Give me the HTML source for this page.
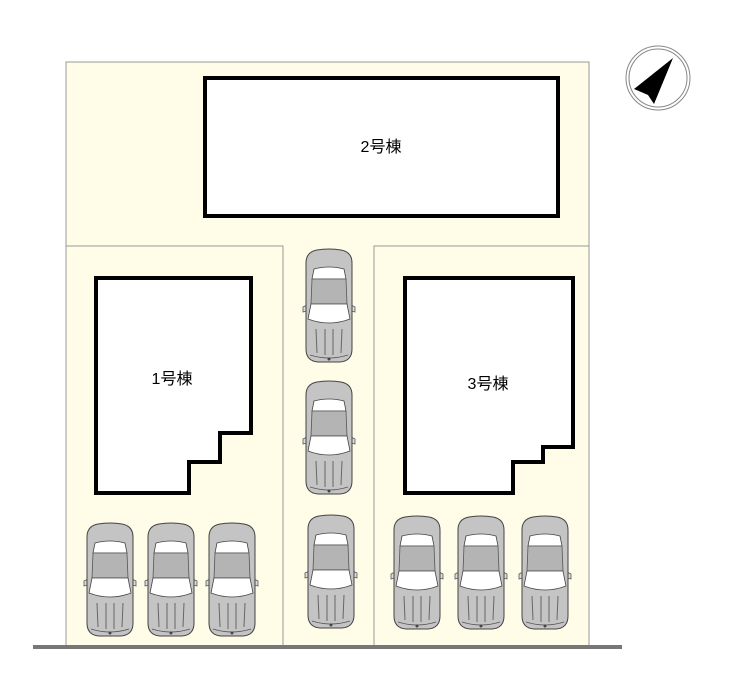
<!DOCTYPE html>
<html><head><meta charset="utf-8"><style>
html,body{margin:0;padding:0;background:#fff;}
svg{display:block;}
text{font-family:"Liberation Sans","Noto Sans CJK JP",sans-serif;font-size:16px;fill:#000;}
</style></head><body>
<svg width="740" height="681" viewBox="0 0 740 681" xmlns="http://www.w3.org/2000/svg">
<defs>
<g id="car">
  <path d="M0,58 L4,56 L4,62 L0,63 Z M52,58 L48,56 L48,62 L52,63 Z" fill="#ddd" stroke="#555" stroke-width="0.8"/>
  <path d="M14,1 Q26,-1 38,1 Q49,3 49,14 L49,100 Q49,112 37,113 L15,113 Q3,112 3,100 L3,14 Q3,3 14,1 Z" fill="#c4c4c4" stroke="#444" stroke-width="1"/>
  <path d="M11,20 Q26,16 41,20 L43,30 L9,30 Z" fill="#fff" stroke="#444" stroke-width="0.8"/>
  <path d="M9,30 L43,30 L44,55 L8,55 Z" fill="#b4b4b4" stroke="#555" stroke-width="0.8"/>
  <path d="M8,55 L44,55 L47,70 Q26,78 5,70 Z" fill="#fff" stroke="#444" stroke-width="0.8"/>
  <path d="M13,80 L14,104 M22,80 L22,106 M30,80 L30,106 M39,80 L38,104" stroke="#666" stroke-width="1" fill="none"/>
  <path d="M7,106 Q26,112 45,106" stroke="#555" stroke-width="0.8" fill="none"/>
  <circle cx="26" cy="110" r="1.5" fill="#444"/>
</g>
</defs>
<rect x="66" y="62" width="523" height="585" fill="#fffde8" stroke="#999" stroke-width="1"/>
<path d="M66,246 H283 V647 M374,647 V246 H589" fill="none" stroke="#999" stroke-width="1"/>
<line x1="33" y1="647" x2="622" y2="647" stroke="#777" stroke-width="4"/>
<rect x="205" y="78" width="353" height="138" fill="#fff" stroke="#000" stroke-width="4"/>
<text x="381" y="152" text-anchor="middle">2号棟</text>
<polygon points="96,278 251,278 251,433 220,433 220,462 189,462 189,493 96,493" fill="#fff" stroke="#000" stroke-width="4"/>
<text x="172" y="384" text-anchor="middle">1号棟</text>
<polygon points="405,278 573,278 573,447 543,447 543,462 513,462 513,493 405,493" fill="#fff" stroke="#000" stroke-width="4"/>
<text x="488" y="389" text-anchor="middle">3号棟</text>
<use href="#car" x="84" y="523"/>
<use href="#car" x="145" y="523"/>
<use href="#car" x="206" y="523"/>
<use href="#car" x="391" y="516"/>
<use href="#car" x="455" y="516"/>
<use href="#car" x="519" y="516"/>
<use href="#car" x="303" y="249"/>
<use href="#car" x="303" y="381"/>
<use href="#car" x="305" y="515"/>
<circle cx="658" cy="78" r="32" fill="#fff" stroke="#888" stroke-width="1"/>
<circle cx="658" cy="78" r="29" fill="none" stroke="#888" stroke-width="1"/>
<polygon points="673,58 634,89 648,95 654,104" fill="#000"/>
</svg>
</body></html>
